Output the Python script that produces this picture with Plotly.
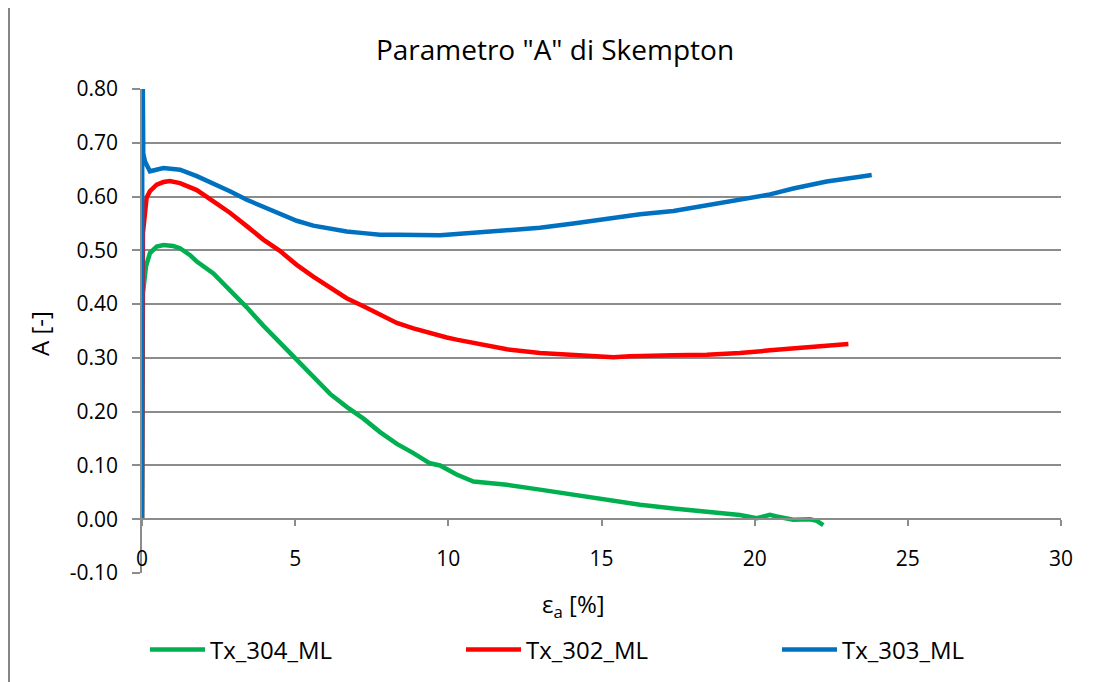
import plotly.graph_objects as go

# ---- data ----
x_304 = [0.0, 0.03, 0.13, 0.26, 0.48, 0.70, 1.02, 1.24, 1.57, 1.79, 2.33, 2.87, 3.42, 3.96, 4.50,
         5.05, 5.59, 6.14, 6.68, 7.23, 7.77, 8.32, 8.86, 9.40, 9.73, 10.27, 10.82, 11.36, 11.91,
         12.99, 14.08, 15.17, 16.26, 17.35, 17.89, 18.44, 19.52, 20.07, 20.50, 20.72, 21.26,
         21.81, 22.03, 22.24]
a_304 = [0.00, 0.42, 0.47, 0.495, 0.507, 0.510, 0.508, 0.504, 0.491, 0.479, 0.457, 0.426, 0.394,
         0.360, 0.329, 0.295, 0.264, 0.233, 0.209, 0.187, 0.162, 0.140, 0.123, 0.104, 0.100,
         0.083, 0.070, 0.067, 0.064, 0.055, 0.045, 0.036, 0.027, 0.020, 0.017, 0.014, 0.008,
         0.002, 0.008, 0.005, -0.001, 0.000, -0.003, -0.011]

x_302 = [0.0, 0.03, 0.10, 0.15, 0.26, 0.48, 0.70, 0.91, 1.24, 1.79, 2.33, 2.87, 3.42, 3.96, 4.50,
         5.05, 5.59, 6.14, 6.68, 7.23, 7.77, 8.32, 8.86, 9.40, 9.95, 10.27, 10.82, 11.36, 11.91,
         12.99, 14.08, 15.17, 15.39, 15.93, 16.26, 17.35, 18.44, 19.52, 20.50, 21.26, 22.35, 23.06]
a_302 = [0.00, 0.532, 0.570, 0.598, 0.610, 0.622, 0.627, 0.629, 0.625, 0.612, 0.591, 0.570, 0.545,
         0.520, 0.499, 0.473, 0.451, 0.430, 0.411, 0.396, 0.380, 0.365, 0.355, 0.346, 0.338,
         0.334, 0.328, 0.322, 0.316, 0.309, 0.306, 0.303, 0.301, 0.303, 0.303, 0.305, 0.306,
         0.309, 0.314, 0.317, 0.323, 0.326]

x_303 = [0.0, 0.01, 0.04, 0.098, 0.26, 0.70, 1.24, 1.79, 2.33, 2.87, 3.42, 3.96, 4.50, 5.05, 5.59,
         6.14, 6.68, 7.23, 7.77, 8.32, 8.86, 9.40, 9.73, 9.95, 10.82, 11.91, 12.99, 14.08, 15.17,
         16.26, 17.35, 18.44, 19.52, 20.50, 21.26, 22.35, 23.44, 23.82]
a_303 = [0.00, 0.95, 0.680, 0.665, 0.647, 0.653, 0.650, 0.638, 0.625, 0.610, 0.594, 0.581, 0.566,
         0.555, 0.546, 0.540, 0.535, 0.532, 0.529, 0.529, 0.528, 0.527, 0.528, 0.529, 0.533,
         0.537, 0.542, 0.550, 0.559, 0.567, 0.573, 0.584, 0.595, 0.604, 0.615, 0.628, 0.637, 0.640]

series_names = ["Tx_304_ML", "Tx_302_ML", "Tx_303_ML"]
series_colors = ["#00B050", "#FF0000", "#0070C0"]

x_ticks = [0, 5, 10, 15, 20, 25, 30]
y_ticks = [-0.1, 0.0, 0.1, 0.2, 0.3, 0.4, 0.5, 0.6, 0.7, 0.8]
y_tick_labels = ["-0.10", "0.00", "0.10", "0.20", "0.30", "0.40", "0.50", "0.60", "0.70", "0.80"]

title_text = 'Parametro "A" di Skempton'
x_title = "ε<sub>a</sub> [%]"
y_title = "A [-]"

FONT = "Open Sans"
GRID = "#8c8c8c"

# the page body adds an 8px offset; figure coordinates = screen coordinates - 8
OFF = 8
W, H = 1099 - OFF, 682 - OFF
L = 142 - OFF
T = 89 - OFF
R = W - (1061 - OFF)
B = H - (573 - OFF)
ph = H - T - B
pw = W - L - R


def py(screen_y):
    """screen y pixel -> paper fraction"""
    return ((T + ph) - (screen_y - OFF)) / ph


def px(screen_x):
    return ((screen_x - OFF) - L) / pw


legend_ids = ["legend", "legend2", "legend3"]
legend_left_px = [145, 461, 777]

fig = go.Figure()
for xs, ys, name, col, lid in zip([x_304, x_302, x_303], [a_304, a_302, a_303],
                                  series_names, series_colors, legend_ids):
    fig.add_trace(go.Scatter(x=xs, y=ys, mode="lines", name=name, legend=lid,
                             line=dict(color=col, width=4.5)))

legend_common = dict(orientation="h", xref="container", xanchor="left",
                     y=py(650), yanchor="middle", itemwidth=55,
                     font=dict(size=24, family=FONT, color="black"),
                     bgcolor="rgba(0,0,0,0)")

fig.update_layout(
    width=W, height=H,
    margin=dict(l=L, r=R, t=T, b=B, autoexpand=False),
    paper_bgcolor="white", plot_bgcolor="white",
    font=dict(family=FONT, color="black", size=21),
    title=dict(text=title_text, x=(555 - OFF) / W, xanchor="center",
               y=1 - (50 - OFF) / H, yanchor="middle",
               font=dict(size=28, family=FONT, color="black")),
    showlegend=True,
    legend=dict(x=(legend_left_px[0] - OFF) / W, **legend_common),
    legend2=dict(x=(legend_left_px[1] - OFF) / W, **legend_common),
    legend3=dict(x=(legend_left_px[2] - OFF) / W, **legend_common),
    xaxis=dict(range=[0, 30], tickvals=x_ticks, showgrid=False, zeroline=False,
               showline=True, linecolor=GRID, linewidth=1.5,
               ticks="outside", ticklen=6, tickwidth=1.5, tickcolor=GRID,
               anchor="free", position=0.1 / 0.9, ticklabelstandoff=15,
               tickfont=dict(size=21, family=FONT, color="black")),
    yaxis=dict(range=[-0.1, 0.8], tickvals=y_ticks, ticktext=y_tick_labels,
               showgrid=True, gridcolor=GRID, gridwidth=1.5, zeroline=False,
               showline=True, linecolor=GRID, linewidth=1.5,
               ticks="outside", ticklen=8, tickwidth=1.5, tickcolor=GRID,
               ticklabelstandoff=10,
               tickfont=dict(size=21, family=FONT, color="black")),
)

fig.add_annotation(text=x_title, xref="paper", yref="paper",
                   x=px(573), y=py(605), xanchor="center", yanchor="middle",
                   showarrow=False, font=dict(size=24, family=FONT, color="black"))
fig.add_annotation(text=y_title, xref="paper", yref="paper", textangle=-90,
                   x=px(39), y=py(334), xanchor="center", yanchor="middle",
                   showarrow=False, font=dict(size=24, family=FONT, color="black"))

# chart border (outer frame)
fig.add_shape(type="rect", xref="paper", yref="paper",
              x0=px(9), x1=px(1099 + 30),
              y0=py(682 + 30), y1=py(6),
              line=dict(color="#868686", width=2), fillcolor="rgba(0,0,0,0)")

fig.write_html("out.html")
